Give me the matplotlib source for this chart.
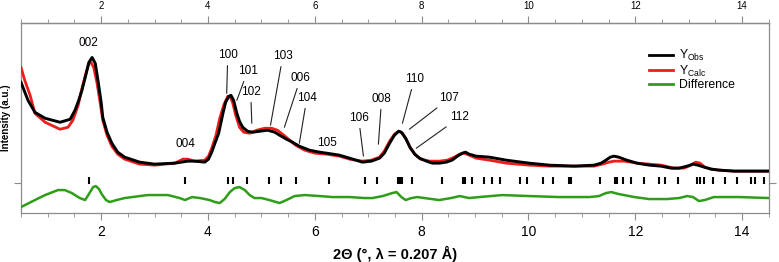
"""
Synchrotron XRD pattern with Rietveld-type fit: observed, calculated, difference, reflection ticks.
"""

import matplotlib
matplotlib.use("Agg")
import matplotlib.pyplot as plt
from matplotlib.ticker import MultipleLocator, FixedLocator

plt.rcParams["font.family"] = ["Liberation Sans", "DejaVu Sans"]

# observed pattern (2theta in deg, intensity a.u.)
obs_tth = [0.50, 0.63, 0.76, 0.95, 1.23, 1.42, 1.51, 1.58, 1.64, 1.72, 1.77, 1.83, 1.89,
           1.94, 2.00, 2.03, 2.11, 2.20, 2.31, 2.44, 2.72, 3.00, 3.38, 3.62, 3.75, 3.94,
           4.01, 4.07, 4.13, 4.20, 4.28, 4.33, 4.39, 4.43, 4.48, 4.54, 4.59, 4.65, 4.74,
           4.84, 4.97, 5.12, 5.25, 5.34, 5.47, 5.58, 5.71, 5.90, 6.09, 6.22, 6.46, 6.65,
           6.89, 7.06, 7.21, 7.30, 7.40, 7.49, 7.57, 7.62, 7.70, 7.78, 7.87, 7.96, 8.09,
           8.20, 8.33, 8.46, 8.57, 8.67, 8.76, 8.82, 8.89, 9.02, 9.27, 9.58, 10.01, 10.39,
           10.86, 11.23, 11.36, 11.45, 11.53, 11.60, 11.69, 11.84, 12.03, 12.26, 12.48,
           12.67, 12.82, 12.97, 13.08, 13.17, 13.29, 13.42, 13.57, 13.85, 14.50]
obs_int = [101, 83, 71, 65, 61, 64, 73, 83, 93, 110, 121, 126, 120,
           103, 81, 66, 51, 40, 31, 26, 21, 19, 20, 22, 22, 21,
           24, 31, 40, 50, 70, 81, 87, 88, 83, 70, 62, 56, 52,
           51, 52, 53, 51, 48, 44, 41, 37, 33, 31, 30, 28, 25,
           21, 22, 25, 30, 40, 48, 52, 51, 45, 36, 29, 25, 22,
           20, 20, 21, 23, 27, 30, 31, 29, 27, 26, 23, 20, 18,
           17, 18, 20, 23, 26, 27, 26, 23, 20, 18, 17,
           15, 15, 17, 19, 18, 16, 14, 13, 12, 12]

# calculated pattern
calc_tth = [0.50, 0.57, 0.67, 0.76, 0.95, 1.23, 1.38, 1.47, 1.57, 1.64, 1.72, 1.77, 1.81,
            1.86, 1.92, 1.98, 2.03, 2.11, 2.20, 2.31, 2.44, 2.72, 3.00, 3.38, 3.53, 3.62,
            3.75, 3.94, 4.01, 4.07, 4.15, 4.22, 4.30, 4.37, 4.41, 4.46, 4.52, 4.59, 4.67,
            4.78, 4.91, 5.06, 5.19, 5.30, 5.42, 5.53, 5.64, 5.81, 6.00, 6.22, 6.46, 6.65,
            6.89, 7.06, 7.21, 7.30, 7.40, 7.49, 7.57, 7.64, 7.72, 7.79, 7.89, 7.98, 8.15,
            8.33, 8.48, 8.61, 8.71, 8.80, 8.89, 9.02, 9.27, 9.58, 10.01, 10.39, 10.86, 11.23,
            11.38, 11.51, 11.60, 11.79, 12.03, 12.26, 12.48, 12.72, 12.91, 13.04, 13.13,
            13.21, 13.30, 13.42, 13.57, 13.85, 14.50]
calc_int = [116, 103, 88, 70, 61, 54, 56, 63, 78, 95, 111, 120, 121,
            116, 101, 81, 63, 48, 37, 29, 24, 19, 18, 20, 24, 24,
            22, 23, 27, 35, 48, 65, 79, 87, 87, 81, 68, 56, 51,
            50, 53, 55, 55, 53, 48, 43, 38, 33, 30, 29, 27, 24,
            22, 23, 26, 32, 42, 49, 52, 50, 43, 35, 28, 24, 22,
            22, 23, 26, 29, 30, 28, 25, 23, 20, 18, 17, 17, 17,
            19, 21, 22, 22, 20, 19, 18, 15, 15, 18, 21,
            20, 16, 14, 13, 12, 12]

# difference curve (offset)
diff_tth = [0.50, 0.76, 0.95, 1.19, 1.32, 1.45, 1.60, 1.70, 1.77, 1.85, 1.90, 1.96, 2.01,
            2.09, 2.16, 2.29, 2.44, 2.87, 3.25, 3.47, 3.57, 3.70, 3.85, 4.03, 4.13, 4.22,
            4.31, 4.41, 4.50, 4.59, 4.69, 4.78, 4.87, 5.00, 5.15, 5.34, 5.47, 5.62, 5.81,
            6.09, 6.33, 6.65, 6.93, 7.08, 7.27, 7.45, 7.53, 7.62, 7.70, 7.81, 7.92, 8.05,
            8.33, 8.55, 8.71, 8.80, 8.89, 9.08, 9.51, 10.01, 10.57, 11.14, 11.32, 11.45,
            11.55, 11.69, 11.98, 12.26, 12.59, 12.82, 12.97, 13.08, 13.19, 13.30, 13.47,
            13.94, 14.50]
diff_int = [-24, -17, -12, -7, -7, -10, -15, -17, -11, -4, -3, -6, -11,
            -17, -19, -17, -15, -12, -12, -15, -17, -14, -15, -17, -19, -20,
            -16, -9, -5, -4, -7, -12, -15, -15, -17, -20, -17, -13, -12,
            -13, -14, -14, -15, -15, -13, -10, -9, -14, -17, -15, -14, -15,
            -17, -15, -13, -14, -15, -14, -12, -13, -14, -14, -13, -10,
            -9, -11, -14, -16, -16, -15, -13, -14, -18, -17, -14,
            -14, -15]

# Bragg reflection positions
refl_tth = [1.78, 3.57, 4.38, 4.47, 4.73, 5.14, 5.37, 5.65, 6.26, 6.93, 7.17, 7.55, 7.59,
            7.63, 7.81, 8.39, 8.77, 8.82, 8.95, 9.17, 9.31, 9.47, 9.85, 9.97, 10.28, 10.45,
            10.75, 10.79, 11.34, 11.62, 11.66, 11.76, 11.91, 12.16, 12.44, 12.55, 12.80,
            13.16, 13.22, 13.28, 13.45, 13.67, 13.91, 14.16, 14.24, 14.40]

# hkl labels: text position and leader line end (None = no leader)
hkl_names = ["002", "004", "100", "101", "102", "103", "006", "104", "105", "106",
             "008", "110", "107", "112"]
hkl_text = [(1.77, 140), (3.57, 39), (4.37, 128), (4.74, 112), (4.80, 91), (5.40, 127),
            (5.73, 105), (5.85, 85), (6.22, 40), (6.82, 65), (7.25, 84), (7.86, 104),
            (8.52, 85), (8.71, 66)]
hkl_tip = [None, None, (4.35, 90), (4.54, 83), (4.82, 60), (5.17, 58), (5.43, 56),
           (5.71, 40), None, (6.91, 27), (7.19, 39), (7.64, 60), (7.77, 54), (7.90, 35)]

tick_vals = [2, 4, 6, 8, 10, 12, 14]

OBS_C = "black"
CALC_C = "#f01c1c"
DIFF_C = "#2e9e18"
AX_C = "#8c8c8c"

fig = plt.figure(figsize=(7.79, 2.62), dpi=100)
ax = fig.add_axes([0.027, 0.187, 0.960, 0.727])

ax.plot(calc_tth, calc_int, color=CALC_C, lw=2.0, zorder=3)
ax.plot(obs_tth, obs_int, color=OBS_C, lw=2.1, zorder=4)
ax.plot(diff_tth, diff_int, color=DIFF_C, lw=1.8, zorder=3)
ax.vlines(refl_tth, -1, 6.3, color="black", lw=1.5)

for name, txt, tip in zip(hkl_names, hkl_text, hkl_tip):
    if tip is None:
        ax.text(txt[0], txt[1], name, ha="center", va="center", fontsize=8.5)
    else:
        ax.annotate(name, xy=tip, xytext=txt, ha="center", va="center", fontsize=8.5,
                    arrowprops=dict(arrowstyle="-", color="#222222", lw=0.8,
                                    shrinkA=1, shrinkB=0))

h_obs = plt.Line2D([], [], color=OBS_C, lw=2.0)
h_calc = plt.Line2D([], [], color=CALC_C, lw=2.0)
h_diff = plt.Line2D([], [], color=DIFF_C, lw=2.0)
ax.legend([h_obs, h_calc, h_diff],
          [r"$\mathregular{Y_{Obs}}$", r"$\mathregular{Y_{Calc}}$", "Difference"],
          loc="upper left", bbox_to_anchor=(0.828, 0.912), frameon=False, fontsize=8.8,
          handlelength=2.0, handletextpad=0.5, labelspacing=0.05, borderpad=0.2)

ax.set_xlim(0.5, 14.5)
ax.set_ylim(-30, 161)
ax.xaxis.set_major_locator(FixedLocator(tick_vals))
ax.xaxis.set_minor_locator(MultipleLocator(0.5))
ax.set_yticks([0])
ax.set_yticklabels([])
ax.tick_params(axis="x", which="both", direction="out", colors=AX_C,
               labelcolor="black", labelsize=10)
ax.tick_params(axis="x", which="major", length=5)
ax.tick_params(axis="x", which="minor", length=3)
ax.tick_params(axis="y", left=True, right=True, direction="out", length=5, colors=AX_C)
for spine in ax.spines.values():
    spine.set_color(AX_C)
    spine.set_linewidth(0.9)

# top axis with smaller labels
top = ax.secondary_xaxis("top")
top.xaxis.set_major_locator(FixedLocator(tick_vals))
top.xaxis.set_minor_locator(MultipleLocator(0.5))
top.tick_params(axis="x", which="both", direction="out", colors=AX_C,
                labelcolor="black", labelsize=7, pad=3)
top.tick_params(axis="x", which="major", length=5)
top.tick_params(axis="x", which="minor", length=3)
top.spines["top"].set_color(AX_C)
top.spines["top"].set_linewidth(0.9)

ax.set_xlabel("2Θ (°, λ = 0.207 Å)", fontsize=10.5, fontweight="bold", labelpad=5)
ax.set_ylabel("Intensity (a.u.)", fontsize=7, fontweight="bold")
ax.yaxis.set_label_coords(-0.014, 0.5)

fig.savefig("out.png", dpi=100)
